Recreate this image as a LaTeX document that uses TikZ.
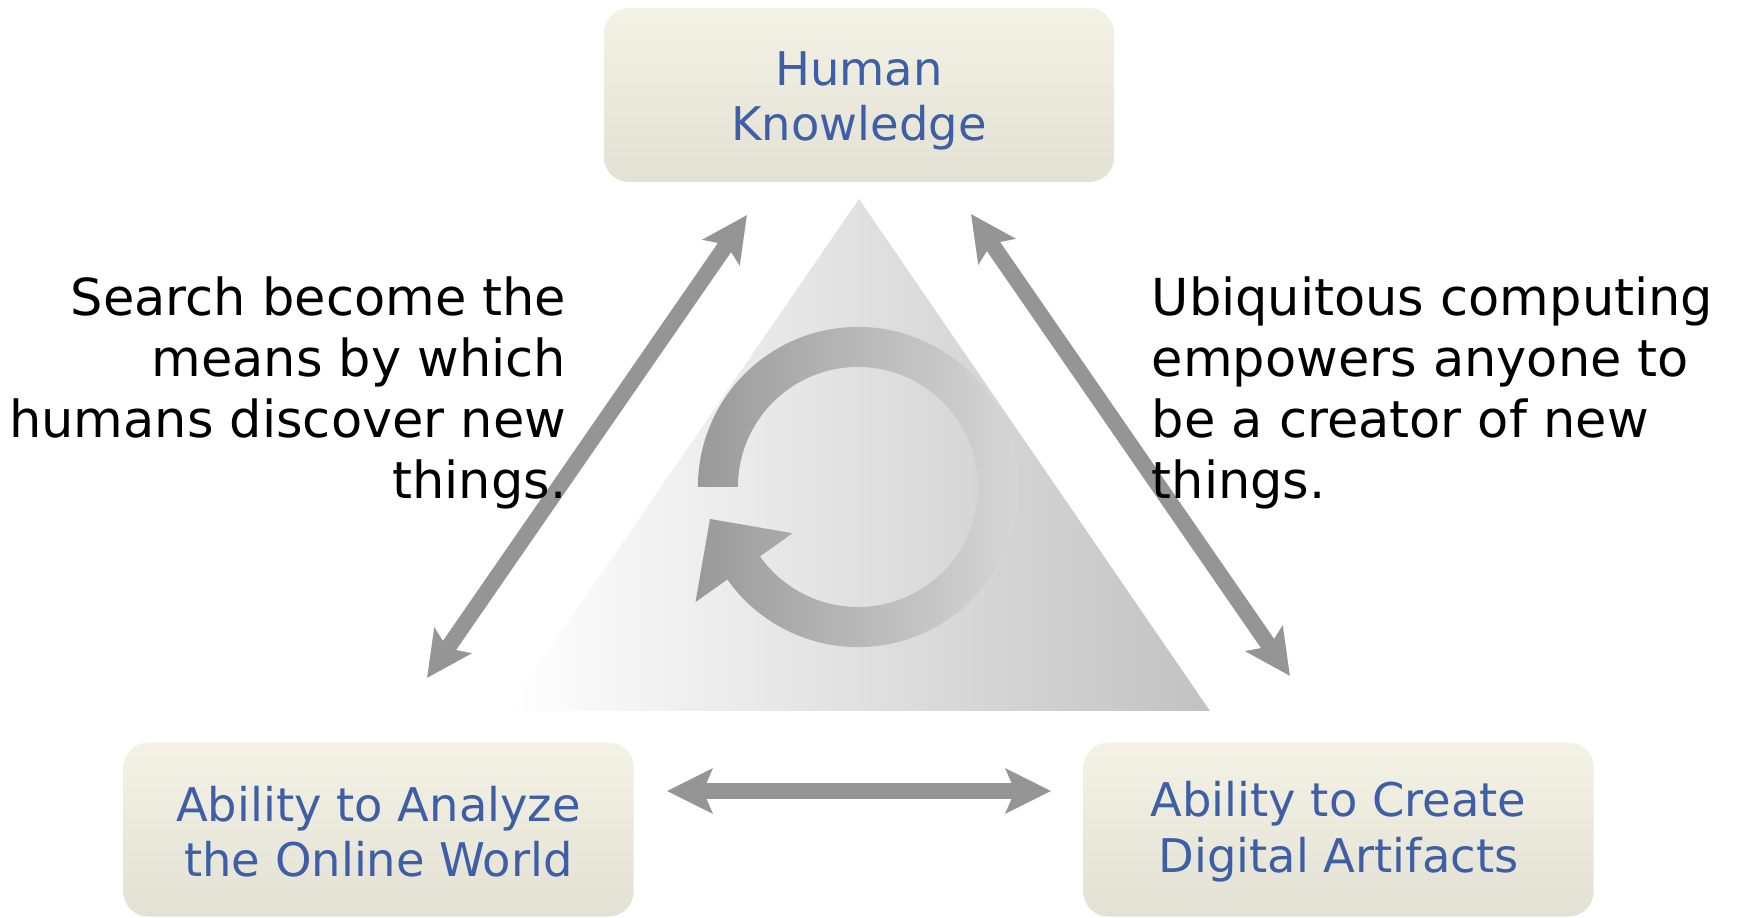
\documentclass[tikz,border=0pt]{standalone}
\usepackage{fontspec}
\setmainfont{DejaVu Sans}
\usetikzlibrary{arrows.meta}
\definecolor{boxblue}{RGB}{62,95,165}
\definecolor{boxtop}{RGB}{244,242,229}
\definecolor{boxbot}{RGB}{227,225,212}
\definecolor{linkgrey}{RGB}{149,149,149}

\begin{document}
\begin{tikzpicture}[x=0.01cm,y=0.01cm,
    box/.style={rounded corners=0.25cm,top color=boxtop,bottom color=boxbot,minimum width=5.1cm,minimum height=1.74cm,text=boxblue,align=center,font=\fontsize{13.2}{15.9}\selectfont,inner sep=0pt},
    link/.style={linkgrey,line width=0.16cm,{Stealth[length=0.45cm,width=0.44cm,inset=0.09cm]}-{Stealth[length=0.45cm,width=0.44cm,inset=0.09cm]}},
    note/.style={font=\fontsize{14.5}{17.4}\selectfont,inner sep=0pt}]
    \useasboundingbox (0,0) rectangle (1744,918);

    % triangle and cycle arrow
    \shade[left color=white,right color=black!24] (507,207) -- (859,719) -- (1210,207) -- cycle;
    \coordinate (ctr) at (858,431);
    \shade[left color=black!40,right color=black!16]
      ([shift={(180:1.6cm)}]ctr) arc[start angle=180,end angle=-144.7,radius=1.6cm]
      -- ([shift={(215.3:1.99cm)}]ctr) -- ([shift={(-148,-32)}]ctr) -- ([shift={(215.3:0.8cm)}]ctr)
      -- ([shift={(215.3:1.2cm)}]ctr) arc[start angle=-144.7,end angle=180,radius=1.2cm] -- cycle;

    \node[box,text height=28.9pt] (human) at (859,823) {Human\\Knowledge};
    \node[box,text height=27.2pt] (analyze) at (378.5,88.5) {Ability to Analyze\\the Online World};
    \node[box,text height=27.2pt] (create) at (1338.5,88.5) {Ability to Create\\Digital Artifacts};

    \coordinate (humanL) at (747,703);
    \coordinate (analyzeT) at (427,240);
    \coordinate (humanR) at (971,704);
    \coordinate (createT) at (1290,242);
    \coordinate (analyzeR) at (667,127);
    \coordinate (createL) at (1051,127);
    \draw[link] (analyzeT) -- (humanL);
    \draw[link] (humanR) -- (createT);
    \draw[link] (analyzeR) -- (createL);

    \node[note,anchor=east,align=right] (search) at (567,525) {Search become the\\means by which\\humans discover new\\things.};
    \node[note,anchor=west,align=left] (ubiq) at (1151,525) {Ubiquitous computing\\empowers anyone to\\be a creator of new\\things.};
\end{tikzpicture}
\end{document}
